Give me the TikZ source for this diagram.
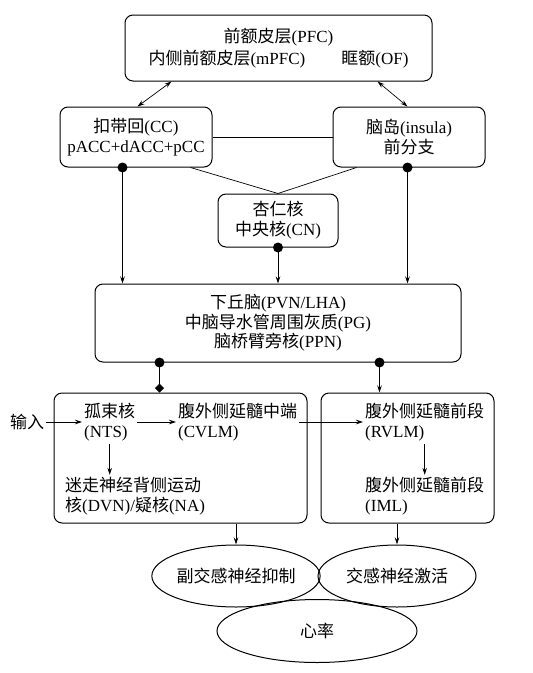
\documentclass[tikz,border=0pt]{standalone}
\usepackage{fontspec}
\setmainfont{Liberation Serif}
\newfontfamily\cjk{Noto Sans CJK SC}
\newcommand\zh[1]{{\cjk #1}}
\usetikzlibrary{arrows.meta,shapes.geometric,calc}
\tikzset{
  box/.style={draw, line width=1pt, rounded corners=8pt, align=center, inner sep=0pt},
  txt/.style={align=left, inner sep=2pt, anchor=west},
  ell/.style={draw, line width=1pt, ellipse, inner sep=0pt},
  dot/.style={circle, fill=black, inner sep=0pt, minimum size=10pt},
  con/.style={line width=0.7pt},
  arr/.style={con, -{Stealth[length=7pt,width=4.5pt]}},
  darr/.style={con, {Stealth[length=7pt,width=4.5pt]}-{Stealth[length=7pt,width=4.5pt]}},
  dia/.style={con, -{Turned Square[length=9pt,width=9pt]}}
}
\begin{document}
\begin{tikzpicture}[x=1pt,y=-1pt,font=\fontsize{17}{20}\selectfont]
\useasboundingbox (0,0) rectangle (533,673);
% boxes
\node[box, minimum width=307pt, minimum height=66pt, font=\fontsize{17}{22}\selectfont] (pfc) at (278.5,48)
  {\zh{前额皮层}(PFC)\\\zh{内侧前额皮层}(mPFC)\hspace{36pt}\zh{眶额}(OF)};
\node[box, minimum width=152pt, minimum height=60pt] (cc) at (136,137)
  {\zh{扣带回}(CC)\\pACC+dACC+pCC};
\node[box, minimum width=152pt, minimum height=60pt] (ins) at (409,137)
  {\zh{脑岛}(insula)\\\zh{前分支}};
\node[box, minimum width=120pt, minimum height=53pt] (cn) at (278,220.5)
  {\zh{杏仁核}\\\zh{中央核}(CN)};
\node[box, minimum width=366pt, minimum height=78pt, font=\fontsize{17}{19.5}\selectfont] (hyp) at (278,323)
  {\zh{下丘脑}(PVN/LHA)\\\zh{中脑导水管周围灰质}(PG)\\\zh{脑桥臂旁核}(PPN)};
\node[box, minimum width=253pt, minimum height=130pt] (L) at (180.5,458) {};
\node[box, minimum width=173pt, minimum height=130pt] (R) at (407.5,458) {};
% inner texts
\node[inner sep=2pt] (inp) at (27,422) {\zh{输入}};
\node[txt] (nts) at (82,422) {\zh{孤束核}\\(NTS)};
\node[txt] (cvlm) at (176,422) {\zh{腹外侧延髓中端}\\(CVLM)};
\node[txt] (rvlm) at (363,422) {\zh{腹外侧延髓前段}\\(RVLM)};
\node[txt] (dvn) at (63,496) {\zh{迷走神经背侧运动}\\\zh{核}(DVN)/\zh{疑核}(NA)};
\node[txt] (iml) at (363,496) {\zh{腹外侧延髓前段}\\(IML)};
% ellipses
\node[ell, minimum width=163pt, minimum height=62pt] (para) at (236,576) {\zh{副交感神经抑制}};
\node[ell, minimum width=158pt, minimum height=62pt] (symp) at (397,576) {\zh{交感神经激活}};
\node[ell, minimum width=200pt, minimum height=63pt] (hr) at (317,631) {\zh{心率}};
% top connectors
\draw[darr] ([xshift=47pt]pfc.south west) -- ([xshift=78pt]cc.north west);
\draw[darr] ([xshift=-55pt]pfc.south east) -- ([xshift=75pt]ins.north west);
\draw[con] (cc.east) -- (ins.west);
\draw[con] ([xshift=-22pt]cc.south east) -- (cn.north);
\draw[con] ([xshift=24pt]ins.south west) -- (cn.north);
% dots
\node[dot] (ccd) at ([xshift=63pt]cc.south west) {};
\node[dot] (insd) at ([xshift=75pt]ins.south west) {};
\node[dot] (cnd) at (cn.south) {};
\node[dot] (hypl) at ([xshift=65pt]hyp.south west) {};
\node[dot] (hypr) at ([xshift=285pt]hyp.south west) {};
\draw[arr] (ccd.center) -- (ccd.center |- hyp.north);
\draw[arr] (cnd.center) -- (cnd.center |- hyp.north);
\draw[arr] (insd.center) -- (insd.center |- hyp.north);
\draw[dia] (hypl.center) -- (hypl.center |- L.north);
\draw[arr] (hypr.center) -- (hypr.center |- R.north);
% inner connectors
\draw[arr] (inp.east) -- (nts.west);
\draw[arr] (nts.east) -- (cvlm.west);
\draw[arr] (cvlm.east) -- (rvlm.west);
\draw[arr] ([yshift=-1pt]nts.south) -- (nts.south |- dvn.north);
\draw[arr] ([yshift=-1pt]rvlm.south) -- (rvlm.south |- iml.north);
% bottom
\draw[arr] (para.north |- L.south) -- (para.north);
\draw[arr] (symp.north |- R.south) -- (symp.north);
\end{tikzpicture}
\end{document}
